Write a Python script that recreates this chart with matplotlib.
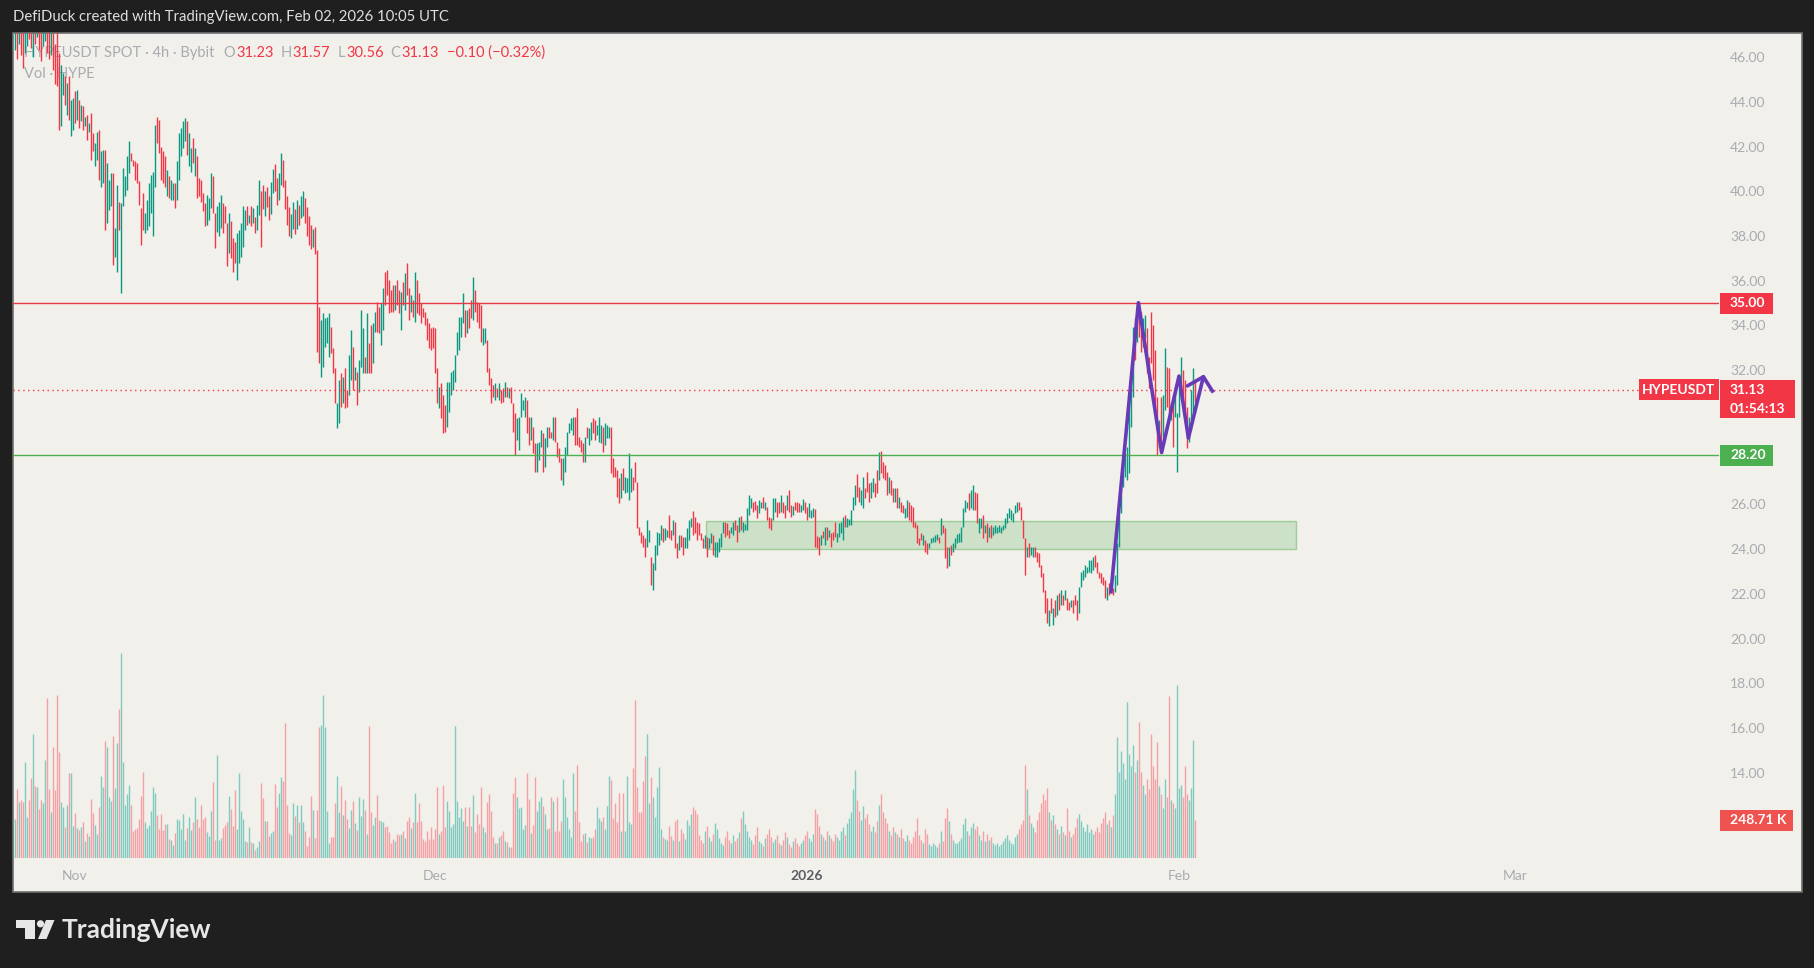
import matplotlib
matplotlib.use('Agg')
import matplotlib.pyplot as plt
from matplotlib.patches import Rectangle, Circle, Polygon
import numpy as np
import pandas as pd

W, H = 1814, 968
plt.rcParams['font.family'] = ['Lato', 'DejaVu Sans']

# ---- data: HYPEUSDT 4h bars, first bar 2025-10-27 00:00 UTC ----
t0 = pd.Timestamp('2025-10-27 00:00')
step = pd.Timedelta(hours=4)

bar_high = [
    47.9, 47.6, 47.8, 47.5, 47.4, 47.3, 47.6, 47.8, 47.7, 47.5,
    47.6, 47.9, 47.8, 47.4, 47.6, 47.7, 47.5, 47.3, 47.4, 47.2,
    46.6, 47.3, 46.18, 45.65, 45.28, 45.13, 44.83, 45.13, 44.09, 44.16,
    44.46, 44.54, 44.09, 43.87, 43.79, 43.34, 43.42, 43.05, 43.49, 42.6,
    42.15, 42.67, 42.75, 41.78, 41.85, 41.85, 41.26, 40.51, 40.81, 40.81,
    38.35, 40.29, 39.54, 39.47, 41.03, 40.66, 41.56, 42.23, 41.7, 41.41,
    41.33, 41.26, 40.44, 39.25, 39.92, 39.02, 39.62, 40.36, 40.74, 40.88,
    42.97, 43.34, 43.2, 42.0, 41.78, 41.56, 40.96, 40.66, 40.51, 40.36,
    40.36, 41.33, 42.6, 42.82, 43.12, 43.27, 43.12, 42.6, 41.93, 42.38,
    41.93, 41.56, 40.59, 40.51, 39.92, 39.47, 39.84, 39.69, 40.81, 40.66,
    39.02, 39.32, 39.54, 39.84, 39.47, 39.32, 38.58, 39.02, 38.65, 37.9,
    37.75, 38.13, 38.28, 38.58, 39.32, 39.17, 39.32, 38.95, 39.32, 39.25,
    38.87, 39.4, 40.51, 39.99, 40.3, 40.0, 40.2, 39.8, 40.4, 41.0,
    41.2, 40.6, 40.8, 41.7, 41.4, 40.5, 39.8, 39.3, 39.0, 39.5,
    39.2, 39.6, 39.4, 39.8, 40.0, 39.7, 39.3, 38.9, 38.5, 38.3,
    38.4, 37.37, 34.84, 34.24, 34.54, 34.32, 34.39, 34.54, 33.95, 32.98,
    32.08, 30.52, 31.56, 31.86, 31.71, 32.08, 31.12, 32.68, 33.8, 33.05,
    32.16, 31.94, 32.46, 34.69, 33.87, 32.61, 34.54, 33.2, 34.02, 34.1,
    34.62, 35.06, 34.84, 34.99, 35.66, 36.4, 36.48, 36.03, 35.59, 35.81,
    35.81, 36.03, 35.59, 35.51, 35.96, 36.33, 36.78, 35.66, 35.36, 35.14,
    36.4, 36.03, 35.44, 34.99, 34.77, 34.62, 34.32, 34.1, 33.87, 33.95,
    33.87, 32.08, 31.26, 31.41, 30.89, 30.45, 31.49, 31.49, 31.94, 32.01,
    32.68, 33.72, 34.39, 34.39, 35.44, 34.69, 34.69, 34.77, 35.14, 36.18,
    35.59, 35.06, 34.99, 34.92, 33.87, 33.87, 33.35, 32.08, 31.64, 31.34,
    31.41, 31.19, 31.41, 31.12, 31.19, 31.49, 31.27, 31.19, 31.24, 30.52,
    30.07, 29.85, 29.93, 30.97, 30.67, 30.82, 30.67, 29.93, 29.93, 29.48,
    28.73, 28.73, 28.81, 29.33, 29.18, 28.96, 29.48, 29.48, 29.26, 29.93,
    29.93, 28.81, 28.51, 28.06, 28.06, 28.59, 29.26, 29.63, 29.85, 29.93,
    29.93, 30.3, 29.03, 28.88, 28.73, 29.03, 29.48, 29.4, 29.7, 29.85,
    29.78, 29.55, 29.93, 29.55, 29.48, 29.63, 29.55, 29.48, 29.48, 28.06,
    27.69, 27.54, 27.17, 27.39, 27.62, 27.24, 27.17, 28.29, 27.62, 27.24,
    27.91, 27.02, 25.01, 24.79, 24.64, 24.49, 25.31, 24.86, 23.67, 23.37,
    24.19, 24.79, 24.71, 25.08, 24.93, 24.93, 24.86, 25.53, 24.86, 25.31,
    25.23, 24.27, 24.64, 24.64, 24.56, 24.56, 24.93, 25.31, 25.38, 25.72,
    25.46, 25.23, 25.16, 24.71, 24.49, 24.64, 24.56, 24.49, 24.71, 24.64,
    24.34, 24.34, 24.49, 24.71, 25.23, 25.23, 25.16, 24.86, 25.01, 25.23,
    25.31, 25.08, 25.46, 25.49, 25.23, 25.13, 25.83, 26.42, 26.28, 26.13,
    26.17, 25.98, 26.2, 26.13, 26.35, 26.13, 25.9, 25.46, 25.38, 26.28,
    26.28, 26.13, 26.13, 26.42, 26.13, 25.98, 26.42, 26.65, 25.98, 25.93,
    26.13, 26.13, 26.08, 25.98, 26.23, 26.13, 25.9, 26.08, 25.75, 25.83,
    25.78, 24.59, 24.56, 24.64, 24.82, 25.01, 25.01, 24.86, 24.71, 24.79,
    25.23, 24.71, 25.16, 25.23, 25.43, 25.53, 25.38, 25.34, 25.75, 26.35,
    26.87, 27.36, 26.77, 26.65, 27.24, 26.72, 27.47, 26.95, 27.02, 27.17,
    26.95, 27.54, 28.36, 28.41, 27.91, 27.77, 27.47, 27.24, 27.1, 26.72,
    26.72, 26.72, 26.35, 26.13, 25.98, 25.83, 26.2, 26.13, 25.98, 25.9,
    25.23, 25.08, 24.49, 24.71, 24.64, 24.41, 24.3, 24.27, 24.49, 24.56,
    24.64, 24.68, 24.56, 25.38, 25.08, 24.94, 24.12, 24.12, 24.19, 24.27,
    24.49, 24.68, 24.71, 25.01, 25.83, 26.2, 26.13, 26.5, 26.65, 26.87,
    26.57, 26.5, 25.38, 25.38, 25.53, 25.08, 25.16, 25.01, 25.08, 25.01,
    25.08, 25.01, 25.08, 25.01, 25.08, 25.38, 25.6, 25.83, 25.75, 25.6,
    25.97, 26.12, 26.12, 25.9, 25.3, 24.48, 24.11, 24.26, 24.11, 24.11,
    24.11, 23.89, 23.81, 23.29, 22.92, 22.18, 21.8, 21.28, 21.8, 21.36,
    21.73, 21.95, 22.03, 22.18, 21.95, 22.18, 21.8, 21.65, 21.73, 21.73,
    21.95, 21.73, 22.32, 23.0, 23.07, 23.29, 23.22, 23.52, 23.52, 23.66,
    23.74, 23.44, 22.99, 22.92, 22.77, 22.62, 22.32, 22.47, 22.32, 22.25,
    22.85, 24.26, 25.6, 26.79, 27.84, 28.28, 28.58, 31.11, 31.86, 33.94,
    34.32, 34.91, 35.06, 34.61, 34.32, 34.47, 33.87, 32.6, 34.61, 34.02,
    32.9, 30.82, 29.77, 30.82, 30.89, 32.98, 32.16, 32.08, 30.52, 30.89,
    31.26, 30.07, 31.49, 32.6, 32.01, 31.56, 30.37, 29.92, 31.11, 32.08,
    31.57,
]

bar_low = [
    46.3, 45.9, 46.6, 46.1, 45.5, 46.2, 46.5, 46.8, 46.4, 46.0,
    46.6, 46.9, 46.3, 45.8, 46.5, 46.7, 46.2, 45.9, 46.1, 45.4,
    44.8, 44.69, 42.75, 42.9, 44.31, 43.87, 43.42, 43.2, 42.45, 42.75,
    43.05, 43.2, 42.82, 43.12, 42.75, 42.9, 42.3, 42.67, 41.41, 41.78,
    41.11, 41.41, 40.51, 40.21, 40.36, 38.28, 38.58, 39.17, 39.32, 36.71,
    37.08, 36.41, 38.28, 35.45, 39.32, 39.77, 40.07, 40.81, 41.33, 41.11,
    40.51, 40.36, 39.4, 37.6, 38.28, 38.13, 38.28, 38.43, 39.02, 37.98,
    40.21, 42.15, 41.7, 40.51, 40.36, 40.21, 39.77, 39.69, 39.62, 39.62,
    39.25, 39.62, 40.51, 41.56, 41.93, 42.23, 41.63, 41.11, 40.88, 41.26,
    40.66, 39.69, 39.77, 39.54, 39.1, 38.46, 38.5, 38.72, 39.25, 39.02,
    37.46, 38.2, 37.98, 38.35, 38.13, 38.58, 36.64, 37.23, 37.01, 36.41,
    36.79, 36.04, 36.79, 37.08, 37.53, 38.28, 38.5, 38.58, 38.43, 38.58,
    38.13, 38.28, 38.95, 37.53, 39.2, 38.9, 39.3, 38.7, 39.0, 39.9,
    40.0, 39.4, 39.6, 40.3, 40.2, 39.2, 38.5, 38.0, 37.9, 38.3,
    38.1, 38.3, 38.5, 38.8, 38.9, 38.6, 38.0, 37.6, 37.4, 37.5,
    37.2, 32.83, 32.31, 31.71, 32.16, 33.05, 33.2, 32.61, 32.75, 31.86,
    30.52, 29.4, 29.63, 30.37, 30.52, 30.3, 30.37, 30.89, 31.56, 31.12,
    31.56, 30.45, 31.04, 32.16, 31.86, 31.86, 31.86, 31.86, 31.86, 32.31,
    33.72, 33.72, 33.65, 33.13, 33.8, 34.92, 35.36, 34.54, 34.62, 34.62,
    34.69, 34.92, 34.54, 33.8, 34.92, 34.69, 35.36, 34.24, 34.62, 34.39,
    34.17, 34.54, 34.47, 34.1, 34.39, 34.02, 33.35, 32.98, 32.9, 32.98,
    31.86, 30.52, 30.3, 29.85, 29.18, 29.25, 29.48, 30.15, 30.89, 31.12,
    31.49, 32.68, 32.9, 33.5, 34.1, 33.5, 33.65, 33.87, 34.32, 34.24,
    34.62, 34.17, 33.87, 33.28, 33.13, 33.2, 31.94, 31.34, 30.52, 30.82,
    30.67, 30.82, 30.67, 30.52, 30.59, 30.82, 30.82, 30.75, 30.52, 29.26,
    28.21, 28.88, 28.44, 29.93, 30.22, 29.93, 29.18, 28.66, 28.88, 28.29,
    27.47, 27.47, 27.99, 28.59, 27.47, 27.69, 28.59, 28.96, 28.96, 28.88,
    28.81, 28.14, 27.91, 27.1, 26.87, 27.47, 28.21, 29.18, 29.33, 29.11,
    28.66, 28.66, 28.59, 28.36, 27.91, 27.91, 28.96, 28.66, 28.88, 29.18,
    28.88, 29.11, 28.81, 28.73, 28.36, 28.66, 28.96, 28.96, 27.39, 27.24,
    27.24, 26.35, 26.05, 26.28, 26.65, 26.5, 26.57, 26.2, 26.57, 26.65,
    27.02, 24.93, 24.64, 24.27, 24.12, 23.67, 24.12, 24.34, 22.4, 22.18,
    23.07, 23.74, 24.19, 24.41, 24.34, 24.41, 24.56, 24.49, 24.41, 24.64,
    24.04, 23.59, 23.97, 24.12, 23.74, 24.04, 24.04, 24.41, 25.01, 24.64,
    24.71, 24.41, 24.64, 24.41, 24.04, 24.04, 23.67, 24.04, 24.27, 23.74,
    23.67, 23.67, 23.89, 24.12, 24.71, 24.56, 24.64, 24.49, 24.71, 24.64,
    24.86, 24.34, 24.79, 24.86, 24.79, 24.86, 24.86, 25.53, 25.83, 25.68,
    25.75, 25.38, 25.61, 25.83, 25.83, 25.75, 25.31, 24.94, 24.86, 25.31,
    25.68, 25.46, 25.61, 25.68, 25.61, 25.38, 25.75, 25.68, 25.46, 25.53,
    25.75, 25.68, 25.68, 25.68, 25.75, 25.61, 25.31, 25.46, 25.38, 25.43,
    24.09, 24.04, 23.74, 24.19, 24.49, 24.19, 24.41, 24.56, 24.12, 24.41,
    24.56, 24.34, 24.56, 24.71, 24.41, 25.01, 25.01, 25.08, 25.08, 25.75,
    25.98, 26.35, 26.13, 25.98, 25.83, 26.28, 26.57, 26.13, 26.28, 26.57,
    26.35, 26.5, 27.1, 27.39, 27.17, 27.1, 26.42, 26.5, 26.42, 26.13,
    26.13, 25.83, 25.83, 25.68, 25.61, 25.38, 25.46, 25.31, 25.23, 25.01,
    24.94, 24.27, 24.19, 24.41, 24.19, 23.89, 23.79, 24.04, 24.27, 24.34,
    24.34, 24.41, 24.27, 24.64, 24.71, 23.59, 23.15, 23.25, 23.74, 23.89,
    24.04, 24.27, 24.34, 24.34, 25.01, 25.68, 25.83, 25.75, 25.83, 25.75,
    25.75, 25.16, 24.71, 24.93, 24.48, 24.71, 24.34, 24.56, 24.48, 24.63,
    24.71, 24.71, 24.78, 24.71, 24.86, 24.93, 25.16, 25.38, 25.3, 25.23,
    25.6, 25.68, 25.75, 25.3, 24.48, 22.85, 23.66, 23.66, 23.74, 23.66,
    23.66, 23.44, 23.22, 22.77, 22.1, 21.13, 20.7, 20.58, 21.13, 20.62,
    20.98, 21.06, 21.28, 21.51, 21.51, 21.73, 21.28, 21.28, 21.43, 21.13,
    21.51, 20.83, 21.13, 22.32, 22.62, 22.77, 22.92, 22.99, 22.92, 23.07,
    23.22, 22.92, 22.7, 22.47, 22.4, 21.8, 21.73, 21.95, 22.03, 21.95,
    22.1, 22.4, 24.11, 25.6, 26.79, 27.24, 27.09, 27.39, 29.47, 30.82,
    32.45, 33.27, 33.5, 32.83, 33.05, 33.42, 31.86, 31.19, 32.31, 31.56,
    30.37, 28.21, 28.58, 28.58, 29.03, 30.22, 30.37, 30.07, 29.77, 28.58,
    29.92, 27.46, 29.92, 30.67, 30.37, 29.77, 28.51, 28.8, 29.33, 30.07,
    30.56,
]

# g = up bar, r = down bar
bar_dir = (
    "grgrrggrrgrgrrggrrgrr"
    "rrggrgrggr" "grgrgrgrrg" "grggrgggrg" "grgggggrrr" "rrrrgggggg"
    "rrrrrgrggr" "gggggrggrg" "rrrrrgggrr" "gggrrrgrrr" "gggggrgrgr"
    "ggrrgrrggr" "rggrrrrggr" "grggrrrrgr" "rrgggggrrr" "ggrgrrggrg"
    "rgggrgrrgg" "rrggrrrrrg" "rrgrgrrgrg" "rrrrrrrrrr" "rgrrrggggg"
    "ggggrgrrgr" "rrrggrrrrg" "rgrrgrgrrr" "gggggrrgrr" "gggrggrrgr"
    "rrrggggggr" "rrrrgrggrr" "gggrgggrrr" "rrgrggggrr" "rrrrrggrgg"
    "gggrggrrgr" "rgrrggggrr" "rrrrgrggrg" "ggggrrrggr" "rgrgggggrr"
    "rggrgrrrgg" "rrgrrgrrgr" "rrggrrgggr" "rrgrgrgrrr" "ggggrggggg"
    "rrggrrrggr" "rgrrrrgrrg" "rgrrggrrrr" "rrrgrrgggg" "grgrrrgrgg"
    "ggggggrggr" "rggrgrgrgg" "gggggggggg" "grrrrgrggr" "rrrrrrgrgr"
    "grgrgrrgrr" "rggggggggr" "rrrrrgrgrg" "gggggggggr" "grrggrrrrr"
    "rgrggrrgrg" "gggrrrgggr"
)

# volume per bar, thousands of HYPE
bar_vol = [
    255, 451, 364, 379, 364, 630, 266, 379, 521, 811,
    473, 462, 320, 379, 358, 643, 1046, 451, 299, 728,
    447, 1068, 691, 368, 331, 205, 349, 554, 556, 211,
    294, 196, 183, 205, 238, 113, 161, 146, 386, 294,
    218, 157, 336, 538, 467, 767, 728, 401, 375, 800,
    456, 756, 974, 1343, 626, 349, 419, 480, 349, 179,
    190, 196, 255, 408, 565, 238, 196, 218, 310, 467,
    425, 283, 190, 288, 183, 222, 222, 124, 118, 87,
    164, 255, 249, 190, 288, 118, 196, 270, 183, 233,
    401, 255, 205, 349, 255, 270, 168, 146, 310, 495,
    118, 676, 118, 131, 196, 218, 233, 408, 320, 211,
    445, 190, 556, 305, 255, 113, 102, 201, 102, 96,
    52, 74, 113, 490, 392, 240, 244, 146, 161, 174,
    484, 336, 423, 532, 506, 881, 349, 161, 153, 358,
    277, 349, 233, 349, 238, 179, 81, 140, 408, 314,
    131, 314, 859, 870, 1068, 859, 310, 96, 135, 140,
    360, 538, 299, 473, 283, 379, 255, 196, 314, 375,
    227, 183, 401, 277, 384, 314, 157, 865, 299, 218,
    270, 414, 251, 244, 233, 205, 211, 168, 96, 124,
    109, 157, 153, 157, 179, 131, 244, 266, 196, 233,
    425, 233, 362, 244, 124, 109, 179, 124, 201,
    124, 190, 462, 157, 174, 477, 201, 375, 305, 201,
    222, 865, 375, 266, 327, 244, 331, 211, 336, 211,
    414, 168, 288, 222, 462, 201, 168, 364, 419, 305,
    135, 96, 96, 135, 153, 174, 109, 102, 74, 74,
    423, 532, 397, 327, 331, 190, 218, 554, 386, 161,
    218, 528, 305, 371, 401, 342, 288, 190, 196, 401,
    375, 179, 401, 179, 240, 517, 401, 270, 190, 135,
    554, 310, 610, 233, 113, 157, 161, 102, 135,
    131, 135, 190, 331, 262, 244, 270, 190, 342, 538,
    510, 262, 360, 233, 423, 174, 425, 179, 538, 233,
    222, 586, 1033, 462, 303, 303, 506, 669, 811, 358,
    528, 401, 266, 462, 597, 190, 135, 124, 118, 207,
    142, 118, 240, 255, 113, 190, 161, 124, 251, 218,
    288, 331, 314, 288,
    150, 120, 95, 180, 210, 140, 110, 160, 230, 190,
    130, 100, 85, 140, 175, 120, 95, 150, 110,
    130, 170, 260, 310, 220, 180, 140, 120, 90, 150,
    200, 110, 95, 80, 130, 160, 190, 140, 105, 125,
    150, 95, 85, 120, 170, 140, 90, 75, 110, 130,
    100, 80, 95, 120, 150, 180, 130, 110, 160, 320,
    290, 210, 160, 140, 120, 180, 150, 130, 110, 160,
    140, 120, 175, 200, 150, 230, 260, 300, 450, 575,
    380, 310, 250, 340, 260, 290, 220, 180, 210, 170,
    240, 350, 420, 300, 260, 230, 180, 150, 200, 170,
    160, 140, 190, 130, 110, 150, 120, 100, 140, 180,
    260, 150, 120, 100, 190, 160, 90, 80, 100, 85,
    75, 95, 180, 110, 260, 330, 240, 160, 120, 100,
    95, 110, 130, 220, 260, 180, 150, 200, 230, 190,
    210, 150, 120, 180, 110, 160, 120, 140, 95, 85,
    100, 80, 90, 110, 130, 150, 120, 100, 90, 140,
    160, 190, 220, 250, 610, 450, 280, 230, 200, 170,
    250, 300, 360, 420, 380, 460, 300, 250, 280, 220,
    190, 160, 210, 170, 150, 330, 180, 140, 160, 200,
    260, 290, 240, 200, 180, 220, 170, 190, 160, 180,
    200, 170, 230, 260, 300, 220, 250, 200, 280, 420,
    795, 560, 700, 620, 520, 1020, 680, 600, 740, 560,
    640, 890, 560, 480, 420, 520, 450, 810, 600, 520,
    757, 470, 420, 330, 520, 400, 1060, 380, 360, 330,
    1135, 460, 480, 400, 605, 420, 380, 460, 772, 248.71,
]

month_dates = ['2025-11-01', '2025-12-01', '2026-01-01', '2026-02-01', '2026-03-01']
month_labels = ['Nov', 'Dec', '2026', 'Feb', 'Mar']
# scale labels that are not hidden behind the price tags
price_ticks = [14, 16, 18, 20, 22, 24, 26, 32, 34, 36, 38, 40, 42, 44, 46]

resistance = 35.00
support = 28.20
last_price = 31.13
last_vol = 248.71
zone_bars = (345.5, 640.5)      # bar index span of the green box
zone_prices = (24.0, 25.25)

# hand-drawn purple pattern (bar index, price)
pattern_x = [548, 561.7, 573.3, 582, 586.7, 594.2, 598.7]
pattern_y = [22.1, 35.02, 28.32, 31.74, 28.97, 31.71, 31.07]
trend_x = [586.2, 594.2]
trend_y = [31.3, 31.71]

# ---- styling ----
DARK = '#1f1f1f'
PANEL = '#f2f0eb'
UP = '#089981'
DOWN = '#f23645'
GRAY = '#a9abb0'

n = min(len(bar_high), len(bar_low), len(bar_dir), len(bar_vol))
x = np.arange(n)
hi = np.array(bar_high[:n])
lo = np.array(bar_low[:n])
up = np.array([c == 'g' for c in bar_dir[:n]])
vol = np.array(bar_vol[:n], dtype=float)
cols = np.where(up, UP, DOWN)

fig = plt.figure(figsize=(W / 100, H / 100), dpi=100)
fig.patch.set_facecolor(DARK)

# full-figure pixel canvas for frame, header and logo
bg = fig.add_axes([0, 0, 1, 1])
bg.set_xlim(0, W)
bg.set_ylim(H, 0)
bg.axis('off')
bg.add_patch(Rectangle((12.5, 33), 1789, 859, facecolor=PANEL, edgecolor='#707070', lw=1.2))
bg.text(13, 17, "DefiDuck created with TradingView.com, Feb 02, 2026 10:05 UTC",
        color='#dedede', fontsize=10.7, va='center', ha='left')

# TradingView logo
bg.add_patch(Rectangle((15.5, 920), 19, 7.5, color='#e6e6e6', lw=0))
bg.add_patch(Rectangle((25, 920), 9.5, 19, color='#e6e6e6', lw=0))
bg.add_patch(Circle((40.5, 923.8), 3.6, color='#e6e6e6', lw=0))
bg.add_patch(Polygon([(46, 920), (54.5, 920), (46.5, 939), (38, 939)], color='#e6e6e6', lw=0))
bg.text(62, 930, "TradingView", color='#e6e6e6', fontsize=19, fontweight='bold',
        va='center', ha='left')

# price pane (bar index on x, price on y)
rect = [13 / W, 1 - 858 / H, 1706 / W, 825 / H]
ax = fig.add_axes(rect)
ax.patch.set_visible(False)
ax.set_xlim(-1, 852)
ax.set_ylim(10.2, 47.073)
for s in ax.spines.values():
    s.set_visible(False)

ax.add_patch(Rectangle((zone_bars[0], zone_prices[0]), zone_bars[1] - zone_bars[0],
                       zone_prices[1] - zone_prices[0],
                       facecolor=(0.30, 0.69, 0.31, 0.22), edgecolor=(0.30, 0.69, 0.31, 0.45),
                       lw=1, zorder=1))
ax.vlines(x, lo, hi, colors=cols, lw=1.0, zorder=2)

ax.axhline(resistance, color='#e53a45', lw=1, zorder=3)
ax.axhline(support, color='#4caf50', lw=1, zorder=3)
ax.axhline(last_price, color=DOWN, lw=1, ls=(0, (1, 2.5)), zorder=3)

ax.plot(pattern_x, pattern_y, color='#673ab7', lw=2.6, zorder=4, solid_joinstyle='round')
ax.plot(trend_x, trend_y, color='#673ab7', lw=2.6, zorder=4, solid_capstyle='round')

ax.yaxis.tick_right()
ax.set_yticks(price_ticks)
ax.set_yticklabels([f"{v:.2f}" for v in price_ticks])
ax.tick_params(axis='y', length=0, pad=8, labelcolor=GRAY, labelsize=10)

month_pos = [(pd.Timestamp(d) - t0) / step for d in month_dates]
ax.set_xticks(month_pos)
ax.set_xticklabels(month_labels)
ax.tick_params(axis='x', length=0, pad=9, labelcolor=GRAY, labelsize=10)
for lbl in ax.get_xticklabels():
    if lbl.get_text() == '2026':
        lbl.set_fontweight('bold')
        lbl.set_color('#5b5d63')


def px_to_axx(px):
    return (px - 13) / 1706


def tag(axis, y, lines, color, x0, x1, top_px, bot_px, per_px):
    # price label box on the right scale; y in data units of that axis
    tr = axis.get_yaxis_transform()
    axis.add_patch(Rectangle((px_to_axx(x0), y - bot_px * per_px), px_to_axx(x1) - px_to_axx(x0),
                             (top_px + bot_px) * per_px, transform=tr, facecolor=color,
                             edgecolor='none', clip_on=False, zorder=10))
    for k, s in enumerate(lines):
        axis.text(px_to_axx(x0 + 10), y - k * 19 * per_px, s, transform=tr, color='white',
                  fontsize=10, fontweight='bold', va='center', ha='left', clip_on=False, zorder=11)


ppx = 1 / 22.375
tag(ax, resistance, ["35.00"], DOWN, 1720, 1773, 10.5, 10.5, ppx)
tag(ax, support, ["28.20"], '#4caf50', 1720, 1773, 10.5, 10.5, ppx)
tag(ax, last_price, [f"{last_price:.2f}", "01:54:13"], DOWN, 1720, 1795, 10, 28.5, ppx)
tr = ax.get_yaxis_transform()
ax.add_patch(Rectangle((px_to_axx(1639), last_price - 10.5 * ppx), px_to_axx(1719) - px_to_axx(1639),
                       21 * ppx, transform=tr, facecolor=DOWN, edgecolor='none',
                       clip_on=False, zorder=10))
ax.text(px_to_axx(1679), last_price, "HYPEUSDT", transform=tr, color='white', fontsize=10,
        fontweight='bold', va='center', ha='center', zorder=11)

# volume pane on the same x
vax = fig.add_axes(rect, sharex=ax)
vax.patch.set_visible(False)
vax.set_ylim(0, 5400)
vax.axis('off')
vcols = np.where(up, '#80cbbf', '#f5a0a5')
vax.vlines(x, 0, vol, colors=vcols, lw=1.0)
tag(vax, last_vol, ["248.71 K"], '#ef5350', 1720, 1793, 10.5, 10.5, 5400 / 825)

# legend lines in the top-left corner
rend = fig.canvas.get_renderer()


def text_run(x0, y0, parts):
    xx = x0
    for s, c, gap in parts:
        t = bg.text(xx, y0, s, color=c, fontsize=10.5, va='center', ha='left')
        xx += t.get_window_extent(renderer=rend).width + gap


text_run(24, 53, [("HYPEUSDT SPOT · 4h · Bybit", GRAY, 9), ("O", GRAY, 1), ("31.23", DOWN, 7),
                  ("H", GRAY, 1), ("31.57", DOWN, 7), ("L", GRAY, 1), ("30.56", DOWN, 7),
                  ("C", GRAY, 1), ("31.13", DOWN, 8), ("−0.10 (−0.32%)", DOWN, 0)])
text_run(24, 74, [("Vol · HYPE", GRAY, 0)])

fig.savefig('out.png', dpi=100, facecolor=DARK)
